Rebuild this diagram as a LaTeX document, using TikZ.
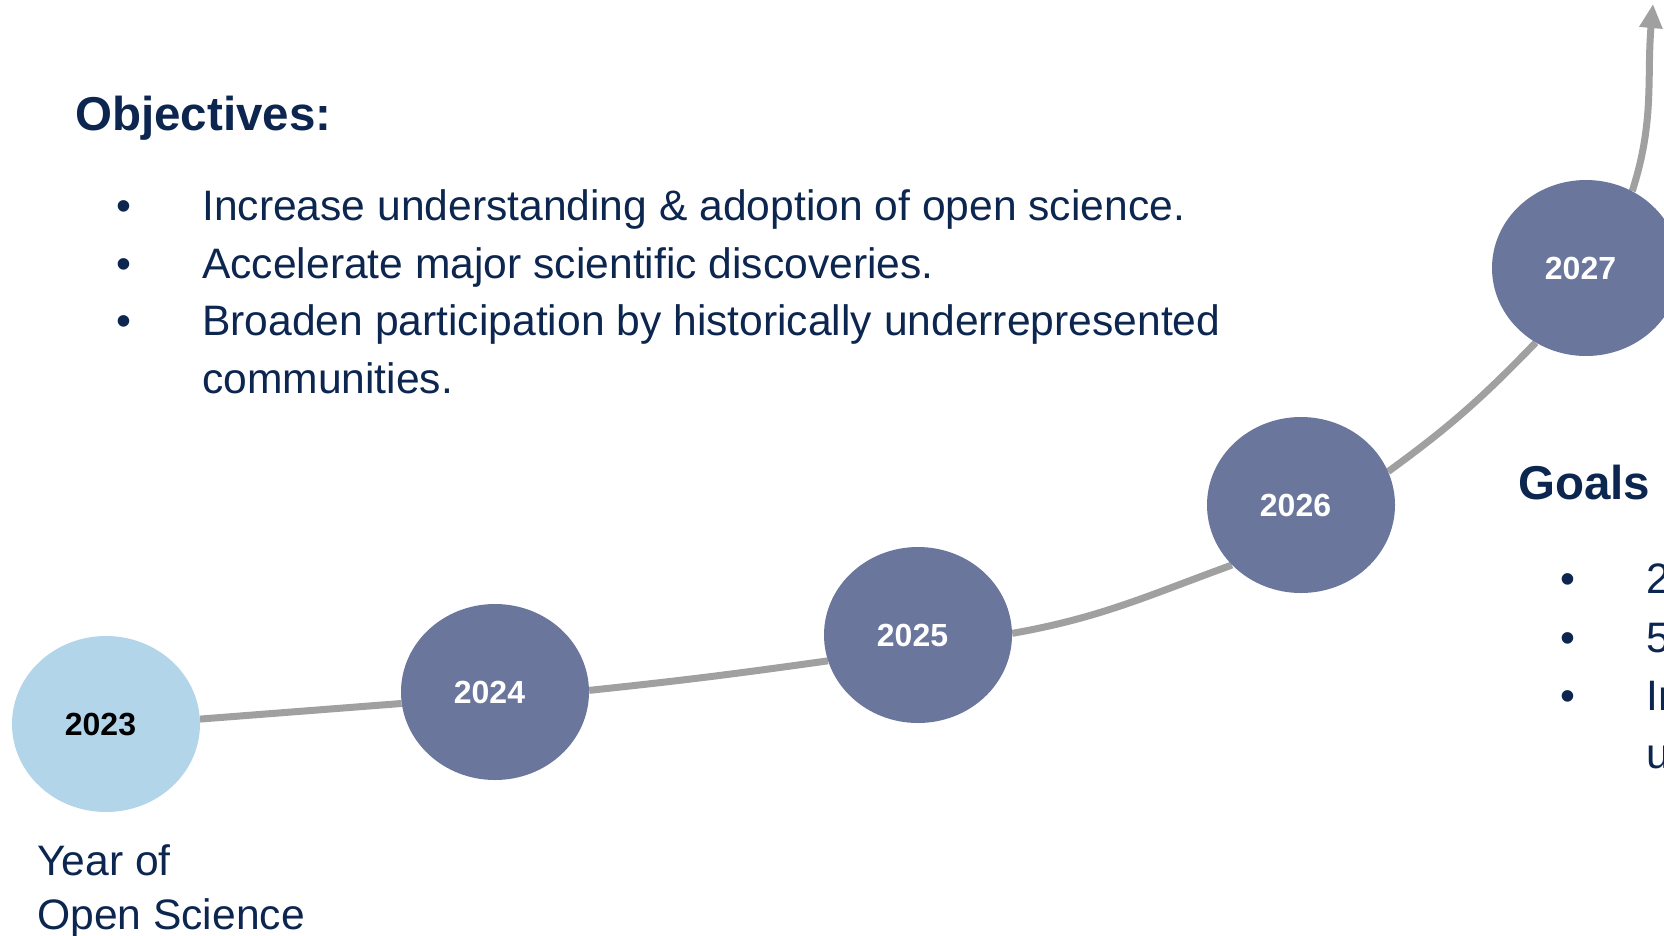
\documentclass[tikz,border=0pt]{standalone}
\usepackage{fontspec}
\setmainfont{Liberation Sans}
\usetikzlibrary{shapes.geometric,arrows.meta,backgrounds}

\definecolor{navy}{HTML}{0C2650}
\definecolor{yearblue}{HTML}{6A769C}
\definecolor{yearlight}{HTML}{B3D5EA}
\definecolor{trackgray}{HTML}{A0A0A0}

\tikzset{
	yearball/.style={ellipse, minimum width=188pt, minimum height=176pt, inner sep=0pt, fill=yearblue, text=white, font=\fontsize{32}{32}\selectfont\bfseries, execute at end node=\hspace*{11pt}},
	yearnow/.style={yearball, fill=yearlight, text=black},
	track/.style={line width=7pt, color=trackgray},
	headline/.style={anchor=base west, text=navy, inner sep=0pt, font=\fontsize{47.5}{47.5}\selectfont\bfseries},
	bodyline/.style={anchor=base west, text=navy, inner sep=0pt, font=\fontsize{42.6}{42.6}\selectfont},
}

\begin{document}
\begin{tikzpicture}[x=1pt,y=1pt]
			%%%%% START %%%%%
			
			\useasboundingbox (0,0) rectangle (1664,-935);
			\clip (0,0) rectangle (1664,-935);
			
			\node[headline] (objhead) at (75, -130) {Objectives:};
			\node[bodyline] (objdot1) at (116, -220) {•};
			\node[bodyline] (objdot2) at (116, -278) {•};
			\node[bodyline] (objdot3) at (116, -335) {•};
			\node[bodyline] (obj1) at (202, -220) {Increase understanding \& adoption of open science.};
			\node[bodyline] (obj2) at (202, -278) {Accelerate major scientific discoveries.};
			\node[bodyline] (obj3) at (202, -335) {Broaden participation by historically underrepresented};
			\node[bodyline] (obj3b) at (202, -393) {communities.};
			
			\node[headline] (goalhead) at (1518, -499) {Goals};
			\node[bodyline] (goaldot1) at (1560, -593) {•};
			\node[bodyline] (goaldot2) at (1560, -652) {•};
			\node[bodyline] (goaldot3) at (1560, -710) {•};
			\node[bodyline] (goal1) at (1646, -593) {2};
			\node[bodyline] (goal2) at (1646, -652) {5};
			\node[bodyline] (goal3) at (1646, -710) {In};
			\node[bodyline] (goal3b) at (1646, -768) {u};
			
			\node[yearnow] (y2023) at (106, -724) {2023};
			\node[yearball] (y2024) at (495, -692) {2024};
			\node[yearball] (y2025) at (918, -635) {2025};
			\node[yearball] (y2026) at (1301, -505) {2026};
			\node[yearball] (y2027) at (1586, -268) {2027};
			
			\node[bodyline] (yos1) at (37, -875) {Year of};
			\node[bodyline] (yos2) at (37, -929) {Open Science};
			
			\coordinate (tip) at (1653, -4);
			
			\begin{scope}[on background layer]
				\draw[track] (y2023.3) -- (y2024.187);
				\draw[track] (y2024.1) to[out=6, in=188] (y2025.196);
				\draw[track] (y2025.1) to[out=10, in=200] (y2026.221);
				\draw[track] (y2026.21) to[out=36, in=226] (y2027.236);
				\draw[track, -{Triangle[length=24pt, width=22pt]}] (y2027.59) to[out=72, in=265] (tip);
			\end{scope}
			
			%%%%% END %%%%%
\end{tikzpicture}
\end{document}
